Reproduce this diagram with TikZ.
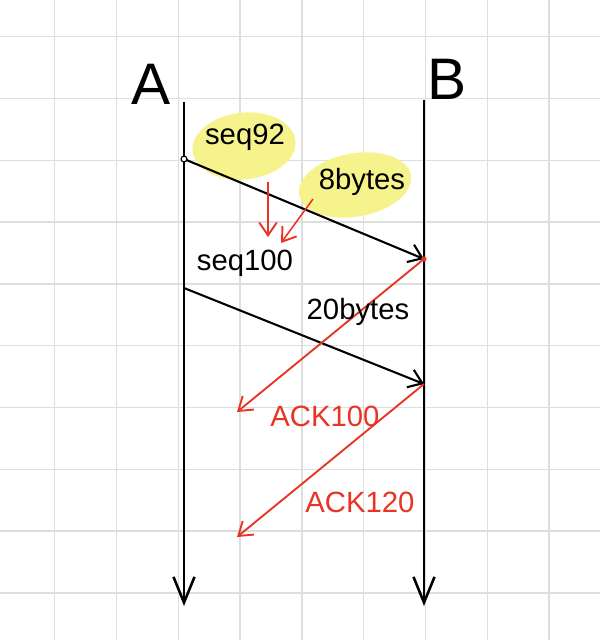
\documentclass[tikz,border=0pt]{standalone}
\usepackage{fontspec}
\setmainfont{Liberation Sans}
\usetikzlibrary{arrows.meta}
\definecolor{redpen}{RGB}{232,52,36}
\definecolor{marker}{RGB}{246,243,140}
\definecolor{paper}{RGB}{222,222,222}

\begin{document}
\begin{tikzpicture}[x=0.03cm, y=-0.03cm,
    gridline/.style={draw=paper, line width=1.3pt},
    lifeline/.style={line width=2.2pt, -{Straight Barb[length=22pt, width=18pt, line width=2.2pt]}},
    segment/.style={line width=1.8pt, -{Straight Barb[length=11pt, width=16pt, line width=1.8pt]}},
    ack/.style={draw=redpen, line width=1.6pt, -{Straight Barb[length=11pt, width=15pt, line width=1.6pt]}},
    note/.style={font=\fontsize{25}{30}\selectfont, inner sep=0pt},
    host/.style={font=\fontsize{50}{56}\selectfont, inner sep=0pt}]
        % Paper and grid
        \fill[white] (0,0) rectangle (600,640);
        \useasboundingbox (0,0) rectangle (600,640);
        \foreach \k in {0,...,8}
            \draw[gridline] (54.7+61.8*\k,0) -- (54.7+61.8*\k,640);
        \foreach \k in {0,...,9}
            \draw[gridline] (0,36.7+61.8*\k) -- (600,36.7+61.8*\k);

        % Highlights
        \fill[marker, rotate around={6:(244,146)}] (244,146) ellipse [x radius=1.55cm, y radius=1.0cm];
        \fill[marker, rotate around={10:(355,185)}] (355,185) ellipse [x radius=1.7cm, y radius=0.95cm];

        % Hosts
        \node[host] (A) at (151,84) {A};
        \node[host] (B) at (447,79) {B};

        % Lifelines
        \coordinate (Atop) at (184,102);
        \coordinate (Abot) at (184,606);
        \coordinate (Btop) at (424,100);
        \coordinate (Bbot) at (424,606);
        \draw[lifeline] (Atop) -- (Abot);
        \draw[lifeline] (Btop) -- (Bbot);

        % Segments
        \coordinate (s1) at (184,159);
        \coordinate (r1) at (424,259);
        \coordinate (s2) at (184,288);
        \coordinate (r2) at (424,384);
        \draw[segment] (s1) -- (r1);
        \draw[segment] (s2) -- (r2);
        \draw[line width=1pt, fill=white] (s1) circle (2.5pt);

        % Acknowledgements
        \coordinate (k1) at (237,412);
        \coordinate (k2) at (237,537);
        \draw[ack] (r1) -- (k1);
        \draw[ack] (r2) -- (k2);
        \fill[redpen] (r1) circle (2.2pt);

        % Labels
        \node[note] (seqA) at (245,137) {seq92};
        \node[note] (len1) at (362,182) {8bytes};
        \node[note] (seqB) at (245,263) {seq100};
        \node[note] (len2) at (358,312) {20bytes};
        \node[note, text=redpen] (ack1) at (325,416) {ACK100};
        \node[note, text=redpen] (ack2) at (360,502) {ACK120};

        % Hint arrows
        \coordinate (h1) at (268,182);
        \coordinate (h2) at (268,237);
        \coordinate (h3) at (313,199);
        \coordinate (h4) at (281,243);
        \draw[ack, line width=1.3pt] (h1) -- (h2);
        \draw[ack, line width=1.3pt] (h3) -- (h4);
    \end{tikzpicture}
\end{document}
